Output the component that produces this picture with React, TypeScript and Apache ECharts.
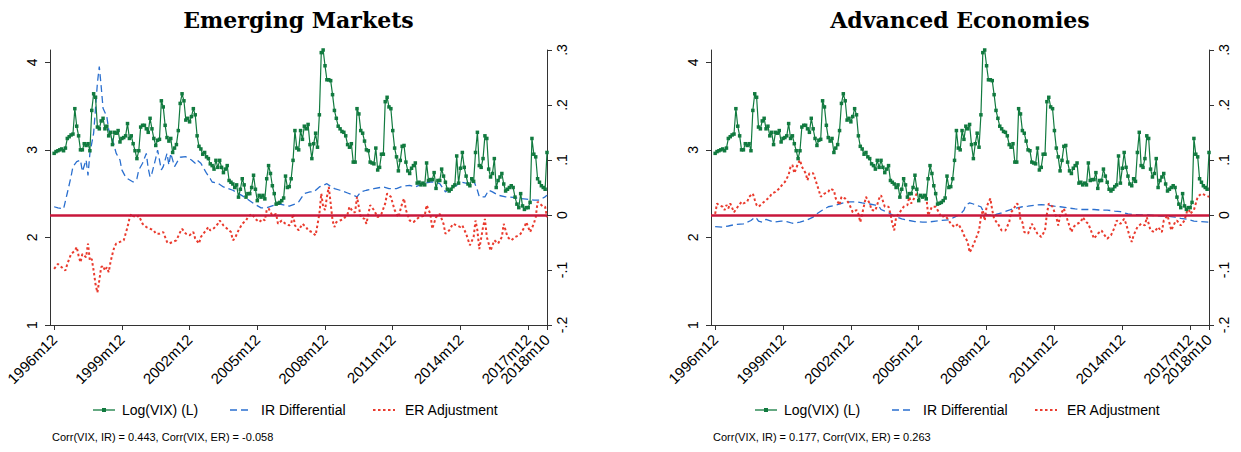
import React, { useEffect, useRef } from 'react';
import * as echarts from 'echarts';

const tickMonths = [0, 36, 72, 108, 144, 180, 216, 252, 262];
const tickLabels = ['1996m12', '1999m12', '2002m12', '2005m12', '2008m12', '2011m12', '2014m12', '2017m12', '2018m10'];
const leftTicks = [1, 2, 3, 4];
const rightTicks = [-0.2, -0.1, 0, 0.1, 0.2, 0.3];
const seriesNames = ['Log(VIX) (L)', 'IR Differential', 'ER Adjustment'];
const panelTitles = ['Emerging Markets', 'Advanced Economies'];
const corrTexts = [
  'Corr(VIX, IR) = 0.443, Corr(VIX, ER) = -0.058',
  'Corr(VIX, IR) = 0.177, Corr(VIX, ER) = 0.263',
];

// Log(VIX), monthly from 1996m12 to 2018m10
const logVix = [
  2.96,
  2.98, 2.99, 3.00, 3.01, 2.99, 3.02, 3.13, 3.15, 3.17, 3.18, 3.47, 3.27,
  3.16, 3.00, 3.00, 3.07, 3.05, 3.07, 2.99, 3.45, 3.64, 3.60, 3.26, 3.24,
  3.33, 3.36, 3.24, 3.27, 3.16, 3.20, 3.06, 3.20, 3.19, 3.22, 3.09, 3.13,
  3.14, 3.16, 3.30, 3.13, 3.16, 3.07, 2.99, 2.90, 2.99, 3.26, 3.28, 3.28,
  3.24, 3.20, 3.36, 3.24, 3.13, 3.05, 3.11, 3.12, 3.56, 3.49, 3.28, 3.14,
  3.10, 3.13, 2.97, 3.02, 3.06, 3.22, 3.53, 3.64, 3.56, 3.34, 3.36, 3.32,
  3.38, 3.47, 3.40, 3.16, 3.04, 3.01, 2.95, 2.97, 2.92, 2.90, 2.84, 2.82,
  2.78, 2.88, 2.80, 2.88, 2.80, 2.74, 2.78, 2.82, 2.65, 2.63, 2.61, 2.57,
  2.60, 2.46, 2.55, 2.67, 2.60, 2.46, 2.50, 2.50, 2.57, 2.71, 2.55, 2.42,
  2.48, 2.46, 2.48, 2.44, 2.67, 2.82, 2.73, 2.59, 2.50, 2.38, 2.39, 2.40,
  2.42, 2.45, 2.70, 2.57, 2.58, 2.67, 2.88, 3.22, 3.02, 3.00, 3.22, 3.12,
  3.27, 3.24, 3.29, 3.06, 2.90, 3.07, 3.19, 3.03, 3.40, 4.11, 4.14, 3.96,
  3.80, 3.80, 3.79, 3.63, 3.45, 3.36, 3.27, 3.24, 3.21, 3.20, 3.16, 3.06,
  3.03, 3.07, 2.86, 2.86, 3.47, 3.41, 3.22, 3.19, 3.10, 3.00, 2.99, 2.86,
  2.85, 2.84, 3.02, 2.77, 2.80, 2.95, 2.95, 3.55, 3.60, 3.49, 3.47, 3.22,
  3.02, 2.92, 2.76, 2.88, 3.04, 3.05, 2.86, 2.76, 2.73, 2.79, 2.82, 2.85,
  2.62, 2.63, 2.60, 2.62, 2.60, 2.85, 2.65, 2.66, 2.66, 2.74, 2.56, 2.65,
  2.65, 2.78, 2.70, 2.63, 2.55, 2.53, 2.55, 2.58, 2.60, 2.93, 2.62, 2.79,
  2.97, 2.80, 2.70, 2.61, 2.59, 2.67, 2.64, 2.97, 3.20, 2.82, 2.80, 2.90,
  3.16, 3.13, 2.78, 2.69, 2.73, 2.90, 2.57, 2.65, 2.69, 2.73, 2.61, 2.53,
  2.55, 2.57, 2.59, 2.57, 2.46, 2.38, 2.34, 2.50, 2.36, 2.32, 2.34, 2.34,
  2.40, 3.13, 2.95, 2.92, 2.67, 2.63, 2.59, 2.57, 2.55, 2.97,
];

// [month index since 1996m12, value]
const emIr = [
  [0, 0.015], [2, 0.013], [5, 0.011], [7, 0.04], [9, 0.07], [10, 0.088], [12, 0.097], [14, 0.1], [15, 0.079],
  [17, 0.1], [18, 0.072], [19, 0.112], [21, 0.149], [22, 0.194], [23, 0.24], [24, 0.27], [25, 0.234], [26, 0.194],
  [28, 0.179], [29, 0.155], [31, 0.137], [33, 0.112], [35, 0.1], [36, 0.082], [38, 0.069], [39, 0.066], [42, 0.06],
  [44, 0.066], [45, 0.082], [47, 0.094], [49, 0.112], [50, 0.085], [51, 0.069], [52, 0.076], [54, 0.103], [55, 0.118],
  [57, 0.082], [58, 0.088], [60, 0.112], [61, 0.091], [62, 0.112], [64, 0.088], [66, 0.1], [67, 0.105], [70, 0.106],
  [73, 0.1], [75, 0.094], [76, 0.1], [78, 0.094], [81, 0.076], [83, 0.066], [84, 0.06], [87, 0.058], [90, 0.051],
  [95, 0.045], [101, 0.033], [106, 0.021], [110, 0.013], [113, 0.013], [117, 0.018], [120, 0.02], [125, 0.016],
  [128, 0.02], [130, 0.024], [133, 0.039], [136, 0.042], [138, 0.042], [141, 0.051], [143, 0.054], [145, 0.057],
  [147, 0.052], [149, 0.048], [152, 0.045], [156, 0.04], [159, 0.036], [161, 0.033], [163, 0.042], [166, 0.045],
  [170, 0.048], [175, 0.051], [178, 0.048], [182, 0.048], [185, 0.052], [189, 0.054], [192, 0.051], [196, 0.057],
  [200, 0.06], [202, 0.06], [205, 0.057], [208, 0.042], [210, 0.048], [214, 0.054], [216, 0.06], [220, 0.057],
  [223, 0.063], [225, 0.045], [226, 0.033], [229, 0.033], [231, 0.045], [233, 0.042], [236, 0.036], [240, 0.033],
  [244, 0.032], [247, 0.03], [251, 0.029], [255, 0.027], [258, 0.027], [261, 0.033], [262, 0.036],
];

const emEr = [
  [0, -0.098], [2, -0.089], [4, -0.095], [6, -0.101], [7, -0.089], [9, -0.071], [11, -0.065], [12, -0.058],
  [13, -0.074], [14, -0.086], [15, -0.071], [17, -0.077], [18, -0.052], [19, -0.083], [20, -0.08], [21, -0.101],
  [22, -0.126], [23, -0.141], [24, -0.119], [25, -0.095], [26, -0.092], [27, -0.101], [28, -0.095], [29, -0.104],
  [30, -0.085], [31, -0.071], [32, -0.058], [33, -0.052], [35, -0.049], [37, -0.046], [38, -0.034], [39, -0.022],
  [40, -0.007], [41, 0.002], [42, -0.002], [44, -0.004], [45, -0.001], [47, -0.016], [49, -0.022], [51, -0.025],
  [53, -0.028], [54, -0.034], [56, -0.034], [58, -0.031], [60, -0.049], [61, -0.052], [63, -0.049], [65, -0.046],
  [67, -0.031], [68, -0.025], [70, -0.034], [72, -0.037], [74, -0.031], [75, -0.043], [77, -0.052], [78, -0.04],
  [80, -0.031], [82, -0.022], [83, -0.028], [85, -0.024], [87, -0.016], [88, -0.01], [90, -0.019], [92, -0.025],
  [94, -0.031], [95, -0.046], [96, -0.043], [98, -0.028], [100, -0.016], [102, -0.01], [103, -0.004], [105, 0.002],
  [107, -0.007], [109, -0.013], [111, -0.007], [112, -0.01], [113, 0.009], [114, 0.012], [116, -0.001], [118, 0.002],
  [119, -0.016], [121, -0.01], [123, -0.016], [125, -0.019], [126, -0.016], [127, 0.002], [128, -0.019], [130, -0.028],
  [132, -0.016], [134, -0.022], [135, -0.028], [137, -0.031], [139, -0.037], [141, 0.002], [142, 0.039], [143, 0.015],
  [144, 0.009], [145, 0.033], [146, 0.051], [147, 0.021], [148, -0.01], [149, -0.022], [150, -0.013], [152, -0.01],
  [154, -0.007], [156, 0.002], [157, 0.015], [159, 0.005], [160, 0.005], [161, 0.033], [163, -0.004], [165, -0.007],
  [166, -0.016], [168, 0.018], [170, 0.009], [172, -0.004], [174, 0.002], [176, 0.021], [177, 0.039], [179, 0.033],
  [181, 0.009], [183, -0.004], [185, 0.021], [186, 0.03], [187, 0.009], [189, -0.01], [191, -0.013], [193, -0.007],
  [194, -0.004], [197, -0.001], [198, 0.018], [200, 0.002], [201, -0.025], [203, -0.004], [205, 0.002], [207, -0.016],
  [208, -0.034], [210, -0.028], [212, -0.016], [214, -0.019], [216, -0.022], [217, -0.019], [219, -0.034],
  [221, -0.055], [223, -0.04], [224, -0.01], [225, -0.028], [226, -0.062], [228, -0.022], [229, -0.007], [230, -0.04],
  [231, -0.052], [232, -0.065], [234, -0.046], [236, -0.052], [238, -0.04], [239, -0.016], [241, -0.04], [243, -0.046],
  [245, -0.04], [247, -0.037], [248, -0.034], [250, -0.022], [251, -0.013], [253, -0.031], [255, -0.016],
  [256, -0.004], [257, 0.024], [258, 0.021], [260, 0.015], [261, 0.015], [262, -0.004],
];

const aeIr = [
  [0, -0.021], [4, -0.022], [7, -0.02], [11, -0.017], [15, -0.016], [19, -0.01], [21, -0.004], [22, -0.006],
  [23, -0.011], [25, -0.013], [27, -0.008], [31, -0.013], [35, -0.011], [38, -0.012], [41, -0.015], [45, -0.013],
  [48, -0.01], [52, -0.004], [53, 0], [57, 0.009], [60, 0.015], [64, 0.018], [68, 0.022], [71, 0.024], [75, 0.024],
  [78, 0.022], [82, 0.02], [85, 0.018], [87, 0.015], [88, 0.01], [92, 0.004], [95, -0.002], [99, -0.007],
  [103, -0.01], [106, -0.012], [110, -0.013], [113, -0.013], [117, -0.011], [120, -0.01], [124, -0.009],
  [127, -0.004], [130, 0.001], [132, 0.009], [133, 0.018], [135, 0.022], [137, 0.02], [140, 0.016], [141, 0.015],
  [143, 0.002], [145, 0], [148, -0.001], [149, 0.001], [152, 0.004], [156, 0.009], [159, 0.012], [163, 0.015],
  [166, 0.016], [170, 0.018], [173, 0.019], [176, 0.018], [180, 0.016], [183, 0.015], [187, 0.013], [191, 0.011],
  [194, 0.01], [201, 0.01], [204, 0.009], [208, 0.009], [212, 0.007], [215, 0.006], [219, 0.002], [222, 0.001],
  [226, 0], [230, 0], [233, -0.001], [237, -0.002], [240, -0.002], [244, -0.004], [247, -0.006], [251, -0.008],
  [254, -0.011], [258, -0.012], [262, -0.013],
];

const aeEr = [
  [0, 0.002], [1, 0.021], [2, 0.018], [4, 0.015], [5, 0.009], [6, 0.018], [7, 0.012], [8, 0.021], [10, 0.005],
  [12, 0.015], [14, 0.024], [15, 0.021], [17, 0.024], [18, 0.033], [20, 0.039], [21, 0.028], [22, 0.018],
  [23, 0.015], [25, 0.021], [27, 0.027], [29, 0.033], [30, 0.039], [32, 0.042], [34, 0.048], [36, 0.057],
  [37, 0.06], [39, 0.073], [40, 0.088], [41, 0.091], [42, 0.076], [43, 0.085], [44, 0.094], [45, 0.1], [46, 0.088],
  [48, 0.076], [49, 0.063], [50, 0.076], [52, 0.076], [53, 0.066], [55, 0.045], [56, 0.033], [58, 0.039],
  [60, 0.042], [61, 0.048], [63, 0.045], [64, 0.03], [66, 0.018], [67, 0.033], [69, 0.03], [71, 0.021], [73, 0.005],
  [75, 0.009], [76, 0.002], [77, -0.013], [78, 0.002], [80, 0.033], [82, 0.021], [83, 0.009], [85, 0.008],
  [87, 0.03], [88, 0.036], [90, 0.015], [92, 0.015], [93, 0.002], [94, -0.016], [95, -0.028], [96, -0.004],
  [98, 0.005], [100, 0.015], [102, 0.018], [103, 0.033], [104, 0.021], [106, 0.033], [107, 0.039], [109, 0.036],
  [111, 0.033], [112, 0.036], [113, -0.001], [115, 0.015], [117, 0.015], [118, 0.009], [120, -0.004], [122, -0.001],
  [124, -0.01], [125, -0.016], [127, -0.022], [129, -0.016], [131, -0.028], [132, -0.037], [134, -0.049],
  [135, -0.068], [136, -0.062], [138, -0.046], [140, -0.028], [141, -0.004], [142, 0.009], [143, -0.01],
  [144, 0.015], [146, 0.03], [147, 0.009], [148, -0.007], [150, -0.016], [152, -0.028], [154, -0.028],
  [156, -0.013], [157, 0.005], [158, 0.009], [160, 0.021], [161, 0.018], [162, -0.01], [163, -0.013], [164, -0.031],
  [166, -0.034], [168, -0.016], [170, -0.028], [171, -0.034], [173, -0.04], [175, -0.028], [176, 0.002],
  [177, 0.021], [179, 0.015], [181, -0.004], [182, -0.019], [183, -0.001], [185, 0.012], [187, -0.01],
  [189, -0.031], [190, -0.022], [192, -0.016], [194, -0.013], [195, -0.004], [197, -0.013], [198, -0.016],
  [200, -0.034], [201, -0.043], [203, -0.034], [205, -0.028], [206, -0.034], [208, -0.043], [210, -0.037],
  [212, -0.022], [213, -0.01], [215, -0.016], [217, -0.007], [218, -0.016], [220, -0.04], [221, -0.049],
  [222, -0.037], [224, -0.022], [226, -0.016], [228, -0.019], [229, -0.004], [231, -0.028], [233, -0.031],
  [235, -0.022], [237, -0.031], [238, -0.01], [240, -0.001], [242, -0.028], [244, -0.013], [245, -0.01],
  [247, -0.019], [249, -0.01], [251, 0.015], [252, 0.002], [254, 0.009], [256, 0.033], [258, 0.039], [260, 0.036],
  [262, 0.033],
];

const GREEN = '#117a3f';
const BLUE = '#2a6fcf';
const RED = '#ea3b2e';
const ZERO = '#c8173b';
const SANS = '"Liberation Sans", Arial, sans-serif';

export default function App() {
  const ref = useRef<HTMLDivElement>(null);

  useEffect(() => {
    const chart = echarts.init(ref.current!, null, { renderer: 'svg' });
    const grids = [
      { left: 50, right: 694, top: 50, bottom: 127 },
      { left: 711, right: 32, top: 50, bottom: 127 },
    ];
    const centers = [298.5, 960];
    const legendLeft = [93, 755];
    const corrLeft = [52, 713];
    const panelData = [
      { ir: emIr, er: emEr },
      { ir: aeIr, er: aeEr },
    ];
    const axisLineStyle = { color: '#333', width: 1 };
    const mainLabelMonths = tickMonths.slice(0, -1);
    const endLabelMonths = tickMonths.slice(-1);
    const monthLabel = (v: number) => tickLabels[tickMonths.indexOf(Math.round(v))] ?? '';
    const xLabelBase = {
      rotate: 45,
      fontSize: 15,
      fontFamily: SANS,
      color: '#000',
      margin: 12,
      showMinLabel: true,
      showMaxLabel: true,
      hideOverlap: false,
      formatter: monthLabel,
    };

    const xAxis: any[] = [];
    grids.forEach((_, p) => {
      xAxis.push({
        type: 'value',
        gridIndex: p,
        position: 'bottom',
        min: -2.2,
        max: 262,
        axisLine: { show: true, onZero: false, lineStyle: axisLineStyle },
        axisTick: { show: true, length: 5, customValues: tickMonths, lineStyle: axisLineStyle },
        axisLabel: { ...xLabelBase, customValues: mainLabelMonths },
        splitLine: { show: false },
      });
    });
    grids.forEach((_, p) => {
      xAxis.push({
        type: 'value',
        gridIndex: p,
        position: 'bottom',
        offset: 0,
        min: -2.2,
        max: 262,
        axisLine: { show: false, onZero: false },
        axisTick: { show: false },
        axisLabel: { ...xLabelBase, customValues: endLabelMonths },
        splitLine: { show: false },
      });
    });

    const yAxis: any[] = [];
    grids.forEach((_, p) => {
      yAxis.push({
        type: 'value',
        gridIndex: p,
        position: 'left',
        min: 1,
        max: 4.14,
        axisLine: { show: true, onZero: false, lineStyle: axisLineStyle },
        axisTick: { show: true, length: 5, customValues: leftTicks, lineStyle: axisLineStyle },
        axisLabel: {
          customValues: leftTicks,
          rotate: 90,
          fontSize: 14,
          fontFamily: SANS,
          color: '#000',
          margin: 11,
          showMinLabel: true,
          showMaxLabel: true,
          hideOverlap: false,
          formatter: (v: number) => String(Math.round(v)),
        },
        splitLine: { show: false },
      });
      yAxis.push({
        type: 'value',
        gridIndex: p,
        position: 'right',
        min: -0.2,
        max: 0.3,
        axisLine: { show: true, onZero: false, lineStyle: axisLineStyle },
        axisTick: { show: true, length: 5, customValues: rightTicks, lineStyle: axisLineStyle },
        axisLabel: {
          customValues: rightTicks,
          rotate: 90,
          fontSize: 14,
          fontFamily: SANS,
          color: '#000',
          margin: 8,
          showMinLabel: true,
          showMaxLabel: true,
          hideOverlap: false,
          formatter: (v: number) => {
            const r = Math.round(v * 10);
            if (r === 0) return '0';
            return (r < 0 ? '-' : '') + '.' + Math.abs(r);
          },
        },
        splitLine: { show: false },
      });
    });

    const series: any[] = [];
    grids.forEach((_, p) => {
      series.push({
        name: seriesNames[0],
        type: 'line',
        xAxisIndex: p,
        yAxisIndex: 2 * p,
        data: logVix.map((v, i) => [i, v]),
        symbol: 'rect',
        symbolSize: 3.5,
        showAllSymbol: true,
        itemStyle: { color: GREEN },
        lineStyle: { color: GREEN, width: 1.2 },
        z: 3,
      });
      series.push({
        name: seriesNames[1],
        type: 'line',
        xAxisIndex: p,
        yAxisIndex: 2 * p + 1,
        data: panelData[p].ir,
        showSymbol: false,
        symbol: 'none',
        itemStyle: { color: BLUE },
        lineStyle: { color: BLUE, width: 1.3, type: [7, 4] },
        z: 2,
      });
      series.push({
        name: seriesNames[2],
        type: 'line',
        xAxisIndex: p,
        yAxisIndex: 2 * p + 1,
        data: panelData[p].er,
        showSymbol: false,
        symbol: 'none',
        itemStyle: { color: RED },
        lineStyle: { color: RED, width: 2, type: [2.5, 2.5] },
        z: 2,
        markLine: {
          silent: true,
          symbol: 'none',
          label: { show: false },
          lineStyle: { color: ZERO, width: 2.5, type: 'solid' },
          data: [{ yAxis: 0 }],
          z: 4,
        },
      });
    });

    // legend drawn as graphic (Stata-style line keys)
    const keyOffsets = [0, 137, 280];
    const textOffsets = [29, 168, 312];
    const keyStyles = [
      { stroke: GREEN, lineWidth: 1.3 },
      { stroke: BLUE, lineWidth: 1.3, lineDash: [7, 4] },
      { stroke: RED, lineWidth: 2, lineDash: [2.5, 2.5] },
    ];
    const legendY = 410;

    const graphic: any[] = [];
    grids.forEach((_, p) => {
      graphic.push({
        type: 'text',
        x: centers[p],
        y: 20,
        style: {
          text: panelTitles[p],
          font: 'bold 22px "DejaVu Serif", serif',
          fill: '#000',
          textAlign: 'center',
          textVerticalAlign: 'middle',
        },
      });
      seriesNames.forEach((name, k) => {
        const x0 = legendLeft[p] + keyOffsets[k];
        graphic.push({
          type: 'line',
          shape: { x1: x0, y1: legendY, x2: x0 + 22, y2: legendY },
          style: { ...keyStyles[k], fill: null },
          silent: true,
        });
        if (k === 0) {
          graphic.push({
            type: 'rect',
            shape: { x: x0 + 11 - 2, y: legendY - 2, width: 4, height: 4 },
            style: { fill: GREEN },
            silent: true,
          });
        }
        graphic.push({
          type: 'text',
          x: legendLeft[p] + textOffsets[k],
          y: legendY,
          style: {
            text: name,
            font: '14px "Liberation Sans", Arial, sans-serif',
            fill: '#000',
            textAlign: 'left',
            textVerticalAlign: 'middle',
          },
        });
      });
      graphic.push({
        type: 'text',
        x: corrLeft[p],
        y: 437,
        style: {
          text: corrTexts[p],
          font: '11px "Liberation Sans", Arial, sans-serif',
          fill: '#000',
          textAlign: 'left',
          textVerticalAlign: 'middle',
        },
      });
    });

    chart.setOption({
      animation: false,
      backgroundColor: '#fff',
      grid: grids,
      xAxis,
      yAxis,
      series,
      graphic,
    });
    return () => chart.dispose();
  }, []);

  return (
    <div
      ref={ref}
      style={{ position: 'fixed', left: 0, top: 0, width: 1241, height: 452, background: '#fff' }}
    />
  );
}
